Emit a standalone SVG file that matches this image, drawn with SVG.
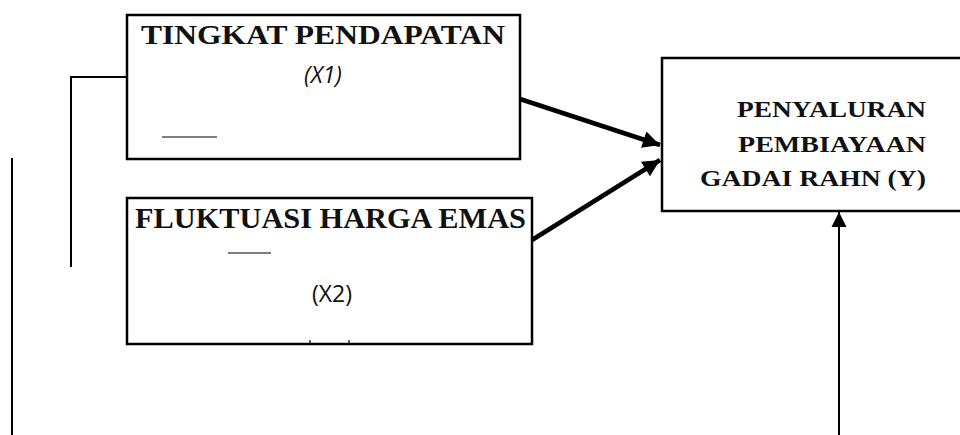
<svg xmlns="http://www.w3.org/2000/svg" width="960" height="435" viewBox="0 0 960 435">
<style>
.box{fill:#fff;stroke:#000;stroke-width:2.5}
.t{font-family:"Liberation Serif","Times New Roman",serif;font-weight:bold;fill:#111}
.s{font-family:"Open Sans","Liberation Sans",sans-serif;fill:#111;font-size:23px}
.ln{stroke:#000;stroke-width:2;fill:none}
.thin{stroke:#000;stroke-width:1.2;fill:none}
.thick{stroke:#000;stroke-width:4.5;fill:none}
</style>
<defs>
<marker id="ah" viewBox="0 0 10 10" refX="10" refY="5" markerWidth="5" markerHeight="3.8" orient="auto" markerUnits="strokeWidth">
<path d="M0,0 L10,5 L0,10 z" fill="#000"/>
</marker>
<marker id="ah2" viewBox="0 0 10 10" refX="10" refY="5" markerWidth="7.5" markerHeight="8" orient="auto" markerUnits="strokeWidth">
<path d="M0,0 L10,5 L0,10 z" fill="#000"/>
</marker>
</defs>
<g id="connectors">
<polyline class="ln" points="127,77 71,77 71,267"/>
<line class="ln" x1="12" y1="158" x2="12" y2="435"/>
<line class="thick" x1="520" y1="99" x2="660" y2="145" marker-end="url(#ah)"/>
<line class="thick" x1="532" y1="240" x2="660" y2="160" marker-end="url(#ah)"/>
<line class="ln" x1="839" y1="435" x2="839" y2="212" marker-end="url(#ah2)"/>
</g>
<g id="x1">
<rect class="box" x="127" y="15" width="393" height="144"/>
<text class="t" x="323" y="44" font-size="27.5" text-anchor="middle" textLength="364" lengthAdjust="spacingAndGlyphs">TINGKAT PENDAPATAN</text>
<text class="s" x="323" y="83" text-anchor="middle" font-style="italic">(X1)</text>
<line class="thin" x1="162" y1="137" x2="217" y2="137"/>
</g>
<g id="x2">
<rect class="box" x="127" y="198" width="405" height="146"/>
<text class="t" x="330.5" y="228" font-size="28.5" text-anchor="middle" textLength="391" lengthAdjust="spacingAndGlyphs">FLUKTUASI HARGA EMAS</text>
<line class="thin" x1="228" y1="253" x2="271" y2="253"/>
<text class="s" x="332" y="302" text-anchor="middle">(X2)</text>
<line class="thin" x1="310" y1="340" x2="310" y2="344"/>
<line class="thin" x1="349" y1="340" x2="349" y2="344"/>
</g>
<g id="y">
<rect class="box" x="662" y="58" width="310" height="153"/>
<text class="t" x="926" y="117" font-size="24" text-anchor="end" textLength="189" lengthAdjust="spacingAndGlyphs">PENYALURAN</text>
<text class="t" x="926" y="152" font-size="24" text-anchor="end" textLength="188" lengthAdjust="spacingAndGlyphs">PEMBIAYAAN</text>
<text class="t" x="926" y="186" font-size="24" text-anchor="end" textLength="226" lengthAdjust="spacingAndGlyphs">GADAI RAHN (Y)</text>
</g>
</svg>
